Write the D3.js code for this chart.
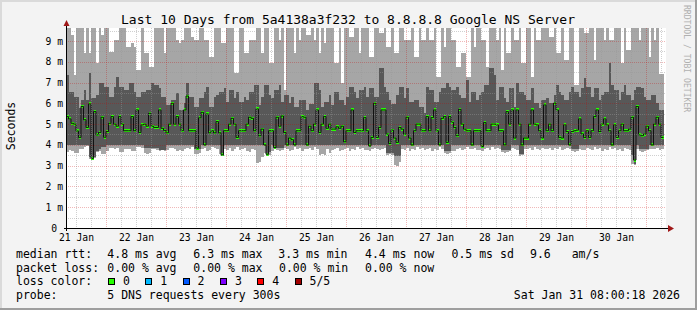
<!DOCTYPE html>
<html>
<head>
<meta charset="utf-8">
<script src="https://cdn.jsdelivr.net/npm/d3@7"></script>
<style>
  body { margin: 0; background: #f3f3f3; }
  svg { display: block; }
  text { font-family: "DejaVu Sans Mono", monospace; fill: #000; }
</style>
</head>
<body>
<svg id="chart" width="697" height="310"></svg>
<script>
// ---- data (values in ms, one bin per hour) ----
const startTime = new Date(Date.UTC(2026, 0, 21, 8))
const endTime = new Date(Date.UTC(2026, 0, 31, 8))

const medianRtt = [
  5.36,5.25,5.04,5.0,4.67,4.36,5.85,5.21,4.84,5.97,
  3.35,5.6,4.48,4.6,5.33,4.37,4.64,5.04,5.36,5.0,
  4.9,5.36,5.0,4.68,4.68,4.68,5.36,4.68,5.68,4.6,
  4.96,5.0,4.9,5.52,4.9,4.84,4.84,5.68,4.8,4.7,
  4.58,5.0,6.0,5.0,5.36,5.0,4.68,5.68,
  6.35,4.68,4.68,4.68,3.84,5.3,5.57,4.0,5.49,4.58,
  4.68,4.58,5.12,4.58,3.52,4.68,4.68,5.0,5.28,5.0,
  4.36,4.68,4.68,4.68,5.0,5.33,5.28,4.68,5.73,4.44,
  4.76,4.0,3.55,4.68,4.68,3.87,5.33,4.9,5.39,4.6,
  4.0,4.33,4.25,4.0,4.68,4.68,5.36,5.33,
  4.0,4.9,4.68,5.0,5.68,4.6,5.0,5.36,4.8,5.0,
  4.76,4.76,4.87,4.8,4.9,4.15,4.68,4.68,5.68,4.6,
  4.68,4.68,4.68,5.31,4.68,3.95,4.36,6.0,4.36,4.84,
  5.68,5.68,4.52,4.07,4.71,4.33,4.12,4.84,4.76,4.52,
  5.33,4.33,4.0,4.68,5.0,5.0,4.68,4.68,
  5.36,4.68,5.31,5.68,4.68,4.0,5.28,5.36,4.12,5.36,
  5.09,4.84,4.44,5.71,5.0,4.76,4.68,4.68,4.0,4.68,
  4.68,4.68,3.92,5.07,4.68,4.68,5.0,5.0,4.96,4.68,
  4.68,4.0,5.6,5.0,5.68,4.33,5.68,5.0,4.0,4.33,
  4.33,5.0,5.68,5.0,4.96,4.68,4.33,5.92,
  4.68,5.0,4.68,6.01,5.68,4.36,4.33,4.96,4.64,4.0,
  4.64,4.68,4.71,5.25,4.53,4.36,4.68,4.36,4.68,5.36,
  5.68,4.64,5.0,5.25,4.96,4.68,4.0,4.96,4.36,4.68,
  5.0,4.68,4.68,4.76,5.33,3.27,5.85,4.48,4.44,4.52,
  4.9,4.68,4.0,5.0,5.33,5.0,4.36
]

// smoke: sorted pings 1 (fastest), 2, 4, 5 (slowest)
const ping1 = [
  3.67,3.75,3.7,3.6,3.6,3.8,3.8,3.9,3.95,3.3,
  3.3,3.35,3.65,3.7,3.55,3.55,3.7,3.85,3.85,3.8,
  3.85,3.65,3.65,3.8,3.8,3.8,3.7,3.7,3.9,3.9,
  3.85,3.6,3.55,3.6,3.8,3.8,3.75,3.7,3.75,3.7,
  3.75,3.85,3.85,3.8,3.7,3.75,3.7,3.8,3.85,3.8,
  3.9,3.55,3.55,3.6,3.8,3.85,3.7,3.75,3.9,3.85,
  3.8,3.55,3.45,3.8,3.75,3.85,3.7,3.8,3.9,3.75,
  3.8,3.85,3.7,3.65,3.8,3.75,3.15,3.2,3.4,3.6,
  3.45,3.5,3.7,3.8,3.75,3.7,3.75,3.85,3.8,3.7,
  3.75,3.9,3.8,3.85,3.7,3.8,3.8,3.85,3.75,3.9,
  3.8,3.5,3.55,3.5,3.8,3.6,3.75,3.8,3.85,3.7,
  3.75,3.8,3.85,3.7,3.8,3.75,3.9,3.8,3.85,3.75,
  3.75,3.7,3.8,3.85,3.8,3.75,3.8,3.85,3.5,3.55,
  3.5,3.05,3.0,3.2,3.8,3.75,3.85,3.7,3.8,3.75,
  3.9,3.8,3.85,3.75,3.8,3.85,3.7,3.8,3.75,3.9,
  3.8,3.6,3.55,3.6,3.7,3.7,3.8,3.85,3.75,3.8,
  3.9,3.8,3.8,3.85,3.75,3.75,3.7,3.8,3.85,3.75,
  3.9,3.8,3.85,3.8,3.65,3.6,3.65,3.7,3.85,3.8,
  3.75,3.45,3.5,3.8,3.8,3.85,3.75,3.9,3.8,3.75,
  3.85,3.8,3.8,3.85,3.75,3.85,3.8,3.9,3.75,3.8,
  3.85,3.8,3.7,3.65,3.7,3.8,3.75,3.75,3.85,3.8,
  3.75,3.9,3.8,3.85,3.7,3.8,3.75,3.9,3.8,3.85,
  3.75,3.8,3.7,3.85,3.8,3.75,3.1,3.05,3.8,3.7,
  3.65,3.7,3.75,3.8,3.8,3.8,3.85,3.75,3.8
]

const ping2 = [
  4.0,4.0,4.0,4.0,4.0,4.0,4.0,4.0,4.0,3.4,
  3.3,3.4,3.7,3.8,3.9,3.9,4.0,4.0,4.0,4.0,
  4.0,4.0,4.0,4.0,4.0,4.0,4.0,4.0,4.0,4.0,
  4.0,3.85,3.85,3.85,3.85,3.85,3.85,3.75,3.75,3.75,
  4.0,4.0,4.0,4.0,4.0,4.0,4.0,4.0,4.0,4.0,
  4.0,3.8,3.8,3.8,4.0,4.0,4.0,4.0,4.0,4.0,
  4.0,4.0,3.5,4.0,4.0,4.0,4.0,4.0,4.0,4.0,
  4.0,4.0,4.0,4.0,4.0,4.0,4.0,4.0,4.0,4.0,
  3.5,3.65,4.0,3.85,3.85,3.85,3.85,4.0,4.0,4.0,
  4.0,4.0,4.0,4.0,4.0,4.0,4.0,4.0,4.0,4.0,
  4.0,4.0,4.0,4.0,4.0,4.0,4.0,4.0,4.0,4.0,
  4.0,4.0,4.0,4.0,4.0,4.0,4.0,4.0,4.0,4.0,
  4.0,3.9,4.0,4.0,4.0,4.0,4.0,4.0,3.6,3.6,
  3.6,3.45,3.45,3.45,4.0,4.0,4.0,4.0,4.0,4.0,
  4.0,4.0,4.0,4.0,4.0,4.0,4.0,4.0,4.0,4.0,
  4.0,3.7,3.7,3.7,4.0,4.0,4.0,4.0,4.0,4.0,
  4.0,4.0,4.0,4.0,4.0,4.0,3.9,4.0,4.0,4.0,
  4.0,4.0,4.0,4.0,3.75,3.75,3.75,3.75,4.0,4.0,
  4.0,3.55,3.55,4.0,4.0,4.0,4.0,4.0,4.0,4.0,
  4.0,4.0,4.0,4.0,4.0,4.0,4.0,4.0,4.0,4.0,
  4.0,4.0,3.8,3.8,3.8,4.0,4.0,4.0,4.0,4.0,
  4.0,4.0,4.0,4.0,4.0,4.0,4.0,4.0,4.0,4.0,
  4.0,4.0,4.0,4.0,4.0,4.0,3.5,3.1,4.0,3.8,
  3.8,3.8,3.8,4.0,4.0,4.0,4.0,4.0,4.0
]

const ping4 = [
  7.36,6.56,6.56,6.29,6.29,5.76,6.16,6.64,6.16,7.44,
  6.24,6.24,6.4,6.99,6.99,6.8,6.8,6.32,6.32,6.8,
  7.25,6.8,6.8,6.64,6.64,6.96,6.96,6.56,6.32,6.32,
  6.56,6.56,6.64,6.64,6.96,6.88,6.88,6.72,6.32,6.32,
  5.92,5.92,6.16,6.16,6.48,5.68,5.68,6.0,
  6.96,6.32,6.32,5.84,5.84,6.24,6.24,6.56,6.8,5.84,
  5.84,6.32,6.4,6.56,6.56,6.72,6.08,6.64,6.64,6.24,
  6.56,6.08,6.08,6.32,6.16,6.56,6.56,6.88,6.88,5.92,
  6.32,6.88,6.88,6.4,6.24,6.64,6.64,6.88,6.08,6.4,
  6.4,6.0,6.32,5.84,5.84,6.16,6.16,6.16,
  5.68,5.99,5.99,7.0,7.0,6.64,5.84,6.08,6.08,6.4,
  5.92,6.56,6.56,6.16,6.16,5.92,6.32,6.8,6.8,6.56,
  6.24,6.64,6.64,6.8,6.32,6.72,6.72,6.32,6.32,7.68,
  7.68,6.8,6.56,6.16,5.99,5.99,6.4,6.8,6.8,6.24,
  6.72,6.08,6.08,6.16,6.16,5.84,5.84,5.52,
  6.8,6.64,6.64,6.08,6.08,6.56,6.72,6.72,6.99,6.8,
  6.64,6.64,6.8,6.4,6.24,6.24,7.12,6.08,6.56,6.56,
  6.16,6.4,6.56,6.88,6.88,7.68,7.68,7.36,6.16,6.8,
  6.8,6.24,6.08,6.72,6.72,5.84,6.96,6.56,6.56,6.4,
  6.16,6.16,6.72,6.0,6.0,5.76,6.16,6.16,
  6.24,6.0,6.0,6.4,6.88,6.56,6.4,6.16,6.16,6.56,
  6.8,6.56,6.56,6.32,6.72,7.2,6.8,6.8,6.32,6.72,
  6.72,6.16,6.4,6.56,6.56,7.92,6.88,6.64,6.64,6.16,
  6.56,6.88,6.4,6.4,6.16,6.64,6.8,6.8,6.72,6.32,
  6.16,6.16,6.4,6.4,6.0,5.68,5.68
]

const ping5 = [
  9.9,9.9,9.3,7.36,9.9,9.9,9.9,8.41,9.9,8.41,
  9.9,9.9,7.93,9.9,9.3,9.9,9.9,8.48,8.48,9.05,
  9.05,9.9,9.9,9.9,8.73,8.73,8.9,8.73,7.6,7.6,
  9.9,8.41,8.41,7.76,7.76,9.9,9.9,9.9,9.9,8.41,
  9.9,9.9,9.9,9.9,9.05,8.89,9.05,9.9,
  9.9,9.9,9.2,9.05,9.05,9.9,9.9,9.05,9.05,8.25,
  8.25,9.9,9.9,9.9,8.89,8.89,9.9,9.9,9.9,7.44,
  7.44,9.9,9.9,8.41,8.41,9.05,9.05,9.05,9.9,9.9,
  8.41,9.9,9.9,7.93,7.93,9.9,9.9,9.05,9.9,6.64,
  9.9,9.9,9.9,8.41,9.9,9.05,9.9,9.9,
  9.29,9.29,9.9,9.05,9.9,8.41,9.9,8.89,9.9,9.9,
  9.9,7.93,7.93,9.9,6.96,9.9,9.9,9.21,9.21,9.9,
  9.9,8.41,9.9,9.9,9.9,8.25,8.25,9.9,9.9,9.37,
  9.37,9.9,8.73,8.73,9.9,8.41,8.41,9.9,9.9,9.05,
  9.05,9.05,9.9,8.25,8.25,9.9,9.05,9.05,
  9.9,9.05,9.05,9.9,7.28,7.28,9.9,8.73,9.9,9.9,
  9.05,9.05,7.76,7.76,8.41,8.41,7.28,7.28,9.9,8.73,
  9.9,9.9,9.05,9.05,7.76,9.9,9.9,9.9,9.05,9.9,
  7.6,9.9,8.41,8.41,9.9,9.05,9.05,9.9,7.93,7.93,
  9.9,9.9,7.28,9.9,9.05,9.05,9.9,9.9,
  9.9,9.21,9.21,9.9,8.41,8.41,9.9,8.09,8.09,9.9,
  9.9,6.9,6.9,9.9,9.9,9.37,9.37,9.9,9.9,8.09,
  9.9,9.9,9.9,9.05,9.9,9.05,9.05,9.9,9.9,9.9,
  7.93,9.9,8.57,8.57,9.9,9.9,9.9,9.05,9.9,9.9,
  9.9,8.25,9.9,9.05,9.9,7.4,7.4
]

const yTicks = [0, 1, 2, 3, 4, 5, 6, 7, 8, 9]
const yMax = 9.625
const dayLabels = d3.utcDay.range(new Date(Date.UTC(2026, 0, 21)), new Date(Date.UTC(2026, 0, 31)))

const titleText = 'Last 10 Days from 5a4138a3f232 to 8.8.8.8 Google NS Server'
const yAxisTitle = 'Seconds'
const watermark = 'RRDTOOL / TOBI OETIKER'
const rttLabel = 'median rtt:'
const rttStats = ['4.8 ms avg', '6.3 ms max', '3.3 ms min', '4.4 ms now', '0.5 ms sd', '9.6', 'am/s']
const lossLabel = 'packet loss:'
const lossStats = ['0.00 % avg', '0.00 % max', '0.00 % min', '0.00 % now']
const lossColorLabel = 'loss color:'
const lossNames = ['0', '1', '2', '3', '4', '5/5']
const lossColors = ['#26ff00', '#00b8ff', '#0059ff', '#7e00ff', '#ff0000', '#a10000']
const probeLabel = 'probe:'
const probeText = '5 DNS requests every 300s'
const stampText = 'Sat Jan 31 08:00:18 2026'

// ---- layout ----
const W = 697, H = 310
const plot = {left: 66, right: 666, top: 28, bottom: 228}
const rttX = [107.3, 193.3, 278.3, 365, 451.5, 530, 571.7]
const lossX = [107.3, 193.3, 279, 365]

const svg = d3.select('#chart')

// canvas with rrdtool style shading
svg.append('rect').attr('width', W).attr('height', H).attr('fill', '#f3f3f3')
svg.append('rect').attr('x', 0).attr('y', 0).attr('width', W).attr('height', 2).attr('fill', '#dadada')
svg.append('rect').attr('x', 0).attr('y', 0).attr('width', 2).attr('height', H).attr('fill', '#dadada')
svg.append('rect').attr('x', 0).attr('y', H - 2).attr('width', W).attr('height', 2).attr('fill', '#9e9e9e')
svg.append('rect').attr('x', W - 2).attr('y', 0).attr('width', 2).attr('height', H).attr('fill', '#9e9e9e')

const x = d3.scaleUtc().domain([startTime, endTime]).range([plot.left, plot.right])
const y = d3.scaleLinear().domain([0, yMax]).range([plot.bottom, plot.top])
const yc = v => y(Math.min(v, yMax))

const n = medianRtt.length
const bins = d3.utcHour.range(startTime, endTime).slice(0, n)
const rows = bins.map((t, i) => ({
  t0: t, t1: d3.utcHour.offset(t, 1),
  p1: ping1[i], p2: ping2[i], med: medianRtt[i], p4: ping4[i], p5: ping5[i]
}))

svg.append('rect')
  .attr('x', plot.left).attr('y', plot.top)
  .attr('width', plot.right - plot.left).attr('height', plot.bottom - plot.top)
  .attr('fill', '#fff')

const g = svg.append('g').attr('shape-rendering', 'crispEdges')

// outer smoke (fastest..slowest ping)
g.selectAll('rect.smoke1').data(rows).enter().append('rect')
  .attr('x', d => x(d.t0)).attr('width', d => x(d.t1) - x(d.t0))
  .attr('y', d => yc(d.p5)).attr('height', d => yc(d.p1) - yc(d.p5))
  .attr('fill', '#a6a6a6')

// inner smoke (2nd..4th ping)
g.selectAll('rect.smoke2').data(rows).enter().append('rect')
  .attr('x', d => x(d.t0)).attr('width', d => x(d.t1) - x(d.t0))
  .attr('y', d => yc(d.p4)).attr('height', d => yc(d.p2) - yc(d.p4))
  .attr('fill', '#585858')

// median line
const stepPts = rows.map(d => [x(d.t0), y(d.med)])
stepPts.push([x(rows[n - 1].t1), y(rows[n - 1].med)])
svg.append('path')
  .attr('d', d3.line().curve(d3.curveStepAfter)(stepPts))
  .attr('fill', 'none').attr('stroke', '#111').attr('stroke-width', 1)

// median marks coloured by loss (all 0 here)
g.selectAll('rect.med').data(rows).enter().append('rect')
  .attr('x', d => x(d.t0)).attr('width', d => x(d.t1) - x(d.t0))
  .attr('y', d => y(d.med) - 1.5).attr('height', 3)
  .attr('fill', lossColors[0])

// grid on top
const grid = svg.append('g').attr('shape-rendering', 'crispEdges')
const px = v => Math.round(v) + 0.5
const minorColor = 'rgba(150,150,150,0.45)'
const majorColor = 'rgba(200,0,0,0.28)'
const minorY = d3.range(0.5, 9.6, 1)
grid.selectAll('line.hmin').data(minorY).enter().append('line')
  .attr('x1', plot.left).attr('x2', plot.right)
  .attr('y1', d => px(y(d))).attr('y2', d => px(y(d)))
  .attr('stroke', minorColor).attr('stroke-dasharray', '1,1')
grid.selectAll('line.hmaj').data(yTicks.slice(1)).enter().append('line')
  .attr('x1', plot.left).attr('x2', plot.right)
  .attr('y1', d => px(y(d))).attr('y2', d => px(y(d)))
  .attr('stroke', majorColor).attr('stroke-dasharray', '1,1')
const sixHours = d3.utcHour.every(6).range(startTime, endTime).filter(t => t.getUTCHours() !== 0 && t > startTime)
grid.selectAll('line.vmin').data(sixHours).enter().append('line')
  .attr('x1', d => px(x(d))).attr('x2', d => px(x(d)))
  .attr('y1', plot.top).attr('y2', plot.bottom)
  .attr('stroke', minorColor).attr('stroke-dasharray', '1,1')
const midnights = d3.utcDay.range(startTime, endTime)
grid.selectAll('line.vmaj').data(midnights).enter().append('line')
  .attr('x1', d => px(x(d))).attr('x2', d => px(x(d)))
  .attr('y1', plot.top).attr('y2', plot.bottom)
  .attr('stroke', majorColor).attr('stroke-dasharray', '1,1')

// axes
const xAxis = d3.axisBottom(x)
  .tickValues(dayLabels.map(d => d3.utcHour.offset(d, 12)))
  .tickSize(0).tickPadding(6)
  .tickFormat(d3.utcFormat('%d %b'))
const xa = svg.append('g').attr('transform', `translate(0,${plot.bottom})`).call(xAxis)
xa.select('.domain').remove()
xa.selectAll('text').attr('font-family', 'DejaVu Sans Mono').attr('font-size', 9.7).attr('fill', '#000')

const yAxis = d3.axisLeft(y).tickValues(yTicks).tickSize(0).tickPadding(3)
  .tickFormat(d => d === 0 ? '0\u00a0' : d + '\u00a0m')
const ya = svg.append('g').attr('transform', `translate(${plot.left},0)`).call(yAxis)
ya.select('.domain').remove()
ya.selectAll('text').attr('font-family', 'DejaVu Sans Mono').attr('font-size', 9.7).attr('fill', '#000')

svg.append('line').attr('x1', plot.left - 2).attr('x2', 670).attr('y1', 228.5).attr('y2', 228.5)
  .attr('stroke', '#000').attr('shape-rendering', 'crispEdges')
svg.append('line').attr('x1', 66.5).attr('x2', 66.5).attr('y1', 231).attr('y2', 24)
  .attr('stroke', '#000').attr('shape-rendering', 'crispEdges')
svg.append('path').attr('d', 'M668,225 L668,232 L674,228.5 Z').attr('fill', '#a01818')
svg.append('path').attr('d', 'M63.5,26 L69.5,26 L66.5,20 Z').attr('fill', '#a01818')

// titles
svg.append('text').attr('x', 348).attr('y', 24).attr('text-anchor', 'middle')
  .attr('font-size', 13).text(titleText)
svg.append('text').attr('transform', 'translate(15,126) rotate(-90)').attr('text-anchor', 'middle')
  .attr('font-size', 11.5).text(yAxisTitle)
svg.append('text').attr('transform', 'translate(684,5) rotate(90)')
  .attr('font-size', 8.1).style('fill', '#b0b0b0').text(watermark)

// legend
const leg = svg.append('g').attr('font-size', 11.5)
leg.append('text').attr('x', 16).attr('y', 258).text(rttLabel)
leg.selectAll('text.rtt').data(rttStats).enter().append('text')
  .attr('x', (d, i) => rttX[i]).attr('y', 258).text(d => d)
leg.append('text').attr('x', 16).attr('y', 271.5).text(lossLabel)
leg.selectAll('text.loss').data(lossStats).enter().append('text')
  .attr('x', (d, i) => lossX[i]).attr('y', 271.5).text(d => d)
leg.append('text').attr('x', 16).attr('y', 285).text(lossColorLabel)
const sw = leg.selectAll('g.sw').data(lossNames).enter().append('g')
  .attr('transform', (d, i) => `translate(${108.5 + i * 37.3},0)`)
sw.append('rect').attr('x', 0).attr('y', 278.5).attr('width', 6).attr('height', 6)
  .attr('fill', (d, i) => lossColors[i]).attr('stroke', '#000').attr('shape-rendering', 'crispEdges')
sw.append('text').attr('x', 14.5).attr('y', 285).text(d => d)
leg.append('text').attr('x', 16).attr('y', 298.5).text(probeLabel)
leg.append('text').attr('x', 107.3).attr('y', 298.5).text(probeText)
leg.append('text').attr('x', 680).attr('y', 298.5).attr('text-anchor', 'end').text(stampText)
</script>
</body>
</html>
